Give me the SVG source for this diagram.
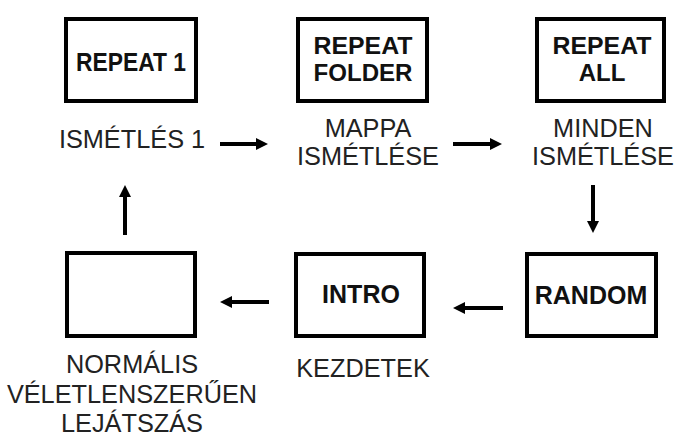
<svg xmlns="http://www.w3.org/2000/svg" width="674" height="443" viewBox="0 0 674 443">
<defs>
<marker id="ah" viewBox="0 0 12 12" refX="4" refY="6" markerWidth="12" markerHeight="12" markerUnits="userSpaceOnUse" orient="auto">
<path d="M0,0 L12,6 L0,12 z" fill="#000"/>
</marker>
<style>
.box{fill:#fff;stroke:#000;stroke-width:4}
.bt{font-family:"Liberation Sans",Arial,sans-serif;font-weight:bold;font-size:25px;fill:#111;text-anchor:middle}
.b2{font-size:24px}
.lb{font-family:"Liberation Sans",Arial,sans-serif;font-size:25.3px;fill:#222;text-anchor:middle}
.ar{stroke:#000;stroke-width:4;fill:none;marker-end:url(#ah)}
</style>
</defs>
<rect width="674" height="443" fill="#fff"/>
<g id="repeat1">
<rect class="box" x="66" y="19" width="130" height="82"/>
<text class="bt" x="131" y="71" textLength="110" lengthAdjust="spacingAndGlyphs">REPEAT 1</text>
<text class="lb" x="132" y="148">ISMÉTLÉS 1</text>
</g>
<g id="repeatfolder">
<rect class="box" x="298" y="19" width="129" height="82"/>
<text class="bt b2" x="363" y="54" textLength="99" lengthAdjust="spacingAndGlyphs">REPEAT</text>
<text class="bt b2" x="363" y="81" textLength="99" lengthAdjust="spacingAndGlyphs">FOLDER</text>
<text class="lb" x="368" y="137">MAPPA</text>
<text class="lb" x="368" y="165">ISMÉTLÉSE</text>
</g>
<g id="repeatall">
<rect class="box" x="537" y="19" width="127" height="82"/>
<text class="bt b2" x="602" y="54" textLength="99" lengthAdjust="spacingAndGlyphs">REPEAT</text>
<text class="bt b2" x="602" y="81">ALL</text>
<text class="lb" x="603" y="137">MINDEN</text>
<text class="lb" x="603" y="165">ISMÉTLÉSE</text>
</g>
<g id="random">
<rect class="box" x="527" y="254" width="129" height="82"/>
<text class="bt" x="591" y="304">RANDOM</text>
</g>
<g id="intro">
<rect class="box" x="296" y="254" width="128" height="82"/>
<text class="bt" x="361" y="303">INTRO</text>
<text class="lb" x="363" y="377">KEZDETEK</text>
</g>
<g id="normal">
<rect class="box" x="67" y="253" width="128" height="83"/>
<text class="lb" x="132" y="373">NORMÁLIS</text>
<text class="lb" x="132" y="403">VÉLETLENSZERŰEN</text>
<text class="lb" x="132" y="432">LEJÁTSZÁS</text>
</g>
<g id="connectors">
<line class="ar" x1="220" y1="144" x2="260" y2="144"/>
<line class="ar" x1="453" y1="144" x2="494" y2="144"/>
<line class="ar" x1="593" y1="185" x2="593" y2="225"/>
<line class="ar" x1="503" y1="308" x2="461" y2="308"/>
<line class="ar" x1="269" y1="302" x2="228" y2="302"/>
<line class="ar" x1="125" y1="235" x2="125" y2="193"/>
</g>
</svg>
